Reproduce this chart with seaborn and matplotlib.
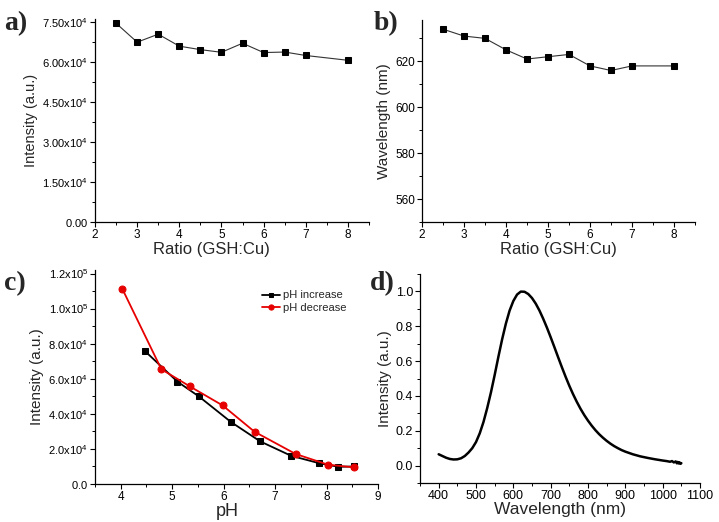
import numpy as np
import pandas as pd
import matplotlib
matplotlib.use("Agg")
import matplotlib.pyplot as plt
from matplotlib.ticker import MultipleLocator, FixedLocator, FixedFormatter, FormatStrFormatter
import seaborn as sns

# ---------------- data ----------------
ratio = [2.5, 3, 3.5, 4, 4.5, 5, 5.5, 6, 6.5, 7, 8]
intensity_a = [74600, 67500, 70500, 66000, 64700, 63700, 67100, 63600, 63800, 62500, 60700]
wavelength_b = [634, 631, 630, 625, 621, 622, 623, 618, 616, 618, 618]

ph_inc = [4.47, 5.10, 5.52, 6.14, 6.71, 7.31, 7.85, 8.23, 8.53]
int_inc = [75800, 58400, 49900, 35400, 24300, 16100, 11900, 9800, 10000]
ph_dec = [4.03, 4.79, 5.34, 5.98, 6.60, 7.40, 8.03, 8.53]
int_dec = [111300, 65400, 55700, 44800, 29800, 17100, 11000, 9500]

spec_nm = [400, 410, 420, 430, 440, 450, 460, 470, 480, 490, 500, 510, 520, 530,
           540, 550, 560, 570, 580, 590, 600, 610, 620, 630, 640, 650, 660, 670,
           680, 690, 700, 710, 720, 730, 740, 750, 760, 770, 780, 790, 800, 810,
           820, 830, 840, 850, 860, 870, 880, 890, 900, 920, 940, 960, 980, 1000,
           1010, 1020, 1025, 1030, 1035, 1038, 1040, 1043, 1045, 1048, 1050]
spec_int = [0.065, 0.055, 0.045, 0.038, 0.035, 0.036, 0.042, 0.055, 0.075, 0.100,
            0.135, 0.185, 0.250, 0.330, 0.420, 0.520, 0.625, 0.725, 0.815, 0.890,
            0.945, 0.982, 0.999, 0.998, 0.985, 0.962, 0.930, 0.890, 0.843, 0.792,
            0.737, 0.680, 0.622, 0.565, 0.510, 0.458, 0.410, 0.366, 0.326, 0.290,
            0.258, 0.229, 0.203, 0.180, 0.160, 0.142, 0.126, 0.112, 0.100, 0.089,
            0.080, 0.065, 0.053, 0.044, 0.036, 0.029, 0.026, 0.022, 0.026, 0.018,
            0.024, 0.013, 0.021, 0.012, 0.019, 0.010, 0.014]

a_yticks = [0, 15000, 30000, 45000, 60000, 75000]
a_yticklabels = [r'$\mathregular{0.00}$', r'$\mathregular{1.50x10^{4}}$', r'$\mathregular{3.00x10^{4}}$',
                 r'$\mathregular{4.50x10^{4}}$', r'$\mathregular{6.00x10^{4}}$', r'$\mathregular{7.50x10^{4}}$']
c_yticks = [0, 20000, 40000, 60000, 80000, 100000, 120000]
c_yticklabels = [r'$\mathregular{0.0}$', r'$\mathregular{2.0x10^{4}}$', r'$\mathregular{4.0x10^{4}}$',
                 r'$\mathregular{6.0x10^{4}}$', r'$\mathregular{8.0x10^{4}}$', r'$\mathregular{1.0x10^{5}}$',
                 r'$\mathregular{1.2x10^{5}}$']

# ---------------- style ----------------
sns.set_theme(style="ticks")
plt.rcParams['font.family'] = ['Liberation Sans', 'DejaVu Sans']
plt.rcParams['mathtext.fontset'] = 'custom'
plt.rcParams['mathtext.rm'] = 'Liberation Sans'
plt.rcParams.update({
    'axes.linewidth': 0.9,
    'xtick.major.size': 3.5, 'ytick.major.size': 3.5,
    'xtick.minor.size': 2, 'ytick.minor.size': 2,
    'xtick.major.width': 0.8, 'ytick.major.width': 0.8,
    'xtick.minor.width': 0.7, 'ytick.minor.width': 0.7,
    'xtick.direction': 'out', 'ytick.direction': 'out',
    'xtick.major.pad': 1.5, 'ytick.major.pad': 1.5,
    'xtick.labelsize': 8.5, 'ytick.labelsize': 8.5,
    'axes.labelsize': 10.5,
    'axes.edgecolor': 'black',
    'xtick.color': 'black', 'ytick.color': 'black',
})

W, H = 719, 522
fig = plt.figure(figsize=(W / 100, H / 100), dpi=100)


def box(l, r, b, t):
    return [l / W, 1 - b / H, (r - l) / W, (b - t) / H]


axa = fig.add_axes(box(95, 369, 222, 19))
axb = fig.add_axes(box(422, 695, 222, 20))
axc = fig.add_axes(box(95, 378, 484, 270))
axd = fig.add_axes(box(420, 700, 483, 274))

for ax in (axa, axb, axc, axd):
    ax.patch.set_alpha(0)
    sns.despine(ax=ax)

# ---- a ----
dfa = pd.DataFrame({'ratio': ratio, 'intensity': intensity_a})
sns.lineplot(data=dfa, x='ratio', y='intensity', ax=axa, color='#333333', linewidth=0.8,
             marker='s', markersize=4.2, markerfacecolor='black', markeredgecolor='black')
axa.set_xlim(2, 8.5)
axa.set_ylim(0, 76200)
axa.xaxis.set_major_locator(MultipleLocator(1))
axa.xaxis.set_minor_locator(MultipleLocator(0.5))
axa.yaxis.set_major_locator(FixedLocator(a_yticks))
axa.yaxis.set_major_formatter(FixedFormatter(a_yticklabels))
axa.yaxis.set_minor_locator(MultipleLocator(7500))
axa.tick_params(axis='y', labelsize=8)
axa.set_xlabel('Ratio (GSH:Cu)', fontsize=12, labelpad=1)
axa.xaxis.set_label_coords((211 - 95) / 274, -0.1)
axa.set_ylabel('Intensity (a.u.)', labelpad=3)

# ---- b ----
dfb = pd.DataFrame({'ratio': ratio, 'wavelength': wavelength_b})
sns.lineplot(data=dfb, x='ratio', y='wavelength', ax=axb, color='#333333', linewidth=0.8,
             marker='s', markersize=4.2, markerfacecolor='black', markeredgecolor='black')
axb.set_xlim(2, 8.5)
axb.set_ylim(550, 638)
axb.xaxis.set_major_locator(MultipleLocator(1))
axb.xaxis.set_minor_locator(MultipleLocator(0.5))
axb.yaxis.set_major_locator(MultipleLocator(20))
axb.yaxis.set_minor_locator(MultipleLocator(10))
axb.set_xlabel('Ratio (GSH:Cu)', fontsize=12, labelpad=1)
axb.set_ylabel('Wavelength (nm)', fontsize=11, labelpad=3)

# ---- c ----
dfc1 = pd.DataFrame({'pH': ph_inc, 'intensity': int_inc})
dfc2 = pd.DataFrame({'pH': ph_dec, 'intensity': int_dec})
sns.lineplot(data=dfc1, x='pH', y='intensity', ax=axc, color='black', linewidth=1.3,
             marker='s', markersize=4.5, markeredgecolor='black', label='pH increase')
sns.lineplot(data=dfc2, x='pH', y='intensity', ax=axc, color='#e60000', linewidth=1.3,
             marker='o', markersize=5, markeredgecolor='#e60000', label='pH decrease')
axc.set_xlim(3.5, 9)
axc.set_ylim(0, 122000)
axc.xaxis.set_major_locator(MultipleLocator(1))
axc.xaxis.set_minor_locator(MultipleLocator(0.5))
axc.yaxis.set_major_locator(FixedLocator(c_yticks))
axc.yaxis.set_major_formatter(FixedFormatter(c_yticklabels))
axc.yaxis.set_minor_locator(MultipleLocator(10000))
axc.tick_params(axis='y', labelsize=8)
axc.set_xlabel('pH', fontsize=13, labelpad=0)
axc.xaxis.set_label_coords((227 - 95) / 283, -0.09)
axc.set_ylabel('Intensity (a.u.)', fontsize=11, labelpad=3)
leg = axc.legend(loc='upper right', bbox_to_anchor=(0.905, 0.925), frameon=False, fontsize=8,
                 handlelength=1.6, handletextpad=0.3, labelspacing=0.25, borderaxespad=0,
                 markerscale=0.75)

# ---- d ----
dfd = pd.DataFrame({'nm': spec_nm, 'intensity': spec_int})
sns.lineplot(data=dfd, x='nm', y='intensity', ax=axd, color='black', linewidth=1.8)
axd.set_xlim(350, 1100)
axd.set_ylim(-0.1, 1.1)
axd.xaxis.set_major_locator(MultipleLocator(100))
axd.xaxis.set_minor_locator(MultipleLocator(50))
axd.yaxis.set_major_locator(MultipleLocator(0.2))
axd.yaxis.set_minor_locator(MultipleLocator(0.1))
axd.yaxis.set_major_formatter(FormatStrFormatter('%.1f'))
axd.tick_params(labelsize=9)
axd.set_xlabel('Wavelength (nm)', fontsize=12.5, labelpad=0)
axd.set_ylabel('Intensity (a.u.)', fontsize=11, labelpad=3)

# ---- panel letters ----
for txt, x, y in [('a)', 4, 30), ('b)', 374, 30), ('c)', 4, 290), ('d)', 370, 290)]:
    fig.text(x / W, 1 - y / H, txt, fontsize=20, fontweight='bold',
             family=['Liberation Serif', 'DejaVu Serif'], ha='left', va='baseline')

fig.savefig('out.png', dpi=100)
